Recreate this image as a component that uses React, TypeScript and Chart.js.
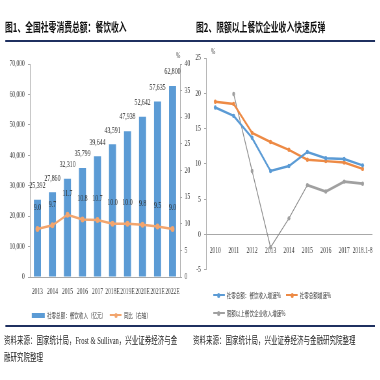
import React, { useEffect, useRef } from 'react';
import { Chart, registerables } from 'chart.js';

Chart.register(...registerables);

// ---------- data ----------
const leftCategories = ['2013', '2014', '2015', '2016', '2017', '2018E', '2019E', '2020E', '2021E', '2022E'];
const leftRevenue = [25392, 27860, 32310, 35799, 39644, 43591, 47938, 52642, 57635, 62800];
const leftGrowth = [9.0, 9.7, 11.7, 10.8, 10.7, 10.0, 10.0, 9.8, 9.5, 9.0];

const rightCategories = ['2010', '2011', '2012', '2013', '2014', '2015', '2016', '2017', '2018.1-8'];
const rightCateringGrowth = [18.0, 16.8, 13.7, 9.0, 9.7, 11.7, 10.8, 10.7, 9.8];
const rightRetailGrowth = [18.8, 18.5, 14.4, 13.1, 12.0, 10.6, 10.4, 10.2, 9.3];
const rightAboveQuotaGrowth = [null, 19.9, 9.0, -1.8, 2.3, 7.0, 6.1, 7.5, 7.2];

const leftTitle = '图1、全国社零消费总额：餐饮收入';
const rightTitle = '图2、限额以上餐饮企业收入快速反弹';
const leftSeriesNames = ['社零总额：餐饮收入（亿元）', '同比（右轴）'];
const rightSeriesNames = ['社零总额：餐饮收入增速%', '社零总额增速%', '限额以上餐饮企业收入增速%'];
const leftSource = ['资料来源：国家统计局，Frost & Sullivan，兴业证券经济与金', '融研究院整理'];
const rightSource = ['资料来源：国家统计局，兴业证券经济与金融研究院整理'];

// ---------- style ----------
const SQ = 0.65; // horizontal squeeze of the whole page
const SERIF = '"Liberation Serif", "Noto Sans CJK SC", serif';
const CJK = '"Noto Sans CJK SC", "Liberation Serif", sans-serif';
const BLUE = '#5b9bd5';
const ORANGE = '#ed8a45';
const ORANGE_L = '#f2a56e';
const GRAY = '#a0a0a0';
const AXIS = '#a8a8a8';
const TXT = '#3a3a3a';
const NAVY = '#1f3060';

const leftLabelsPlugin = {
  id: 'leftLabels',
  afterDatasetsDraw(chart: any) {
    const ctx = chart.ctx;
    const bars = chart.getDatasetMeta(0).data;
    const y1 = chart.scales.y1;
    ctx.save();
    ctx.font = `9px ${SERIF}`;
    ctx.fillStyle = '#2a2a2a';
    ctx.textAlign = 'center';
    ctx.textBaseline = 'middle';
    bars.forEach((bar: any, i: number) => {
      ctx.fillText(leftRevenue[i].toLocaleString('en-US'), bar.x, bar.y - 14);
      ctx.fillText(leftGrowth[i].toFixed(1), bar.x, y1.getPixelForValue(leftGrowth[i]) - 21);
    });
    ctx.restore();
  },
};

function LeftChart() {
  const ref = useRef<HTMLCanvasElement>(null);
  useEffect(() => {
    const chart = new Chart(ref.current as HTMLCanvasElement, {
      type: 'bar',
      data: {
        labels: leftCategories,
        datasets: [
          {
            type: 'bar',
            label: leftSeriesNames[0],
            data: leftRevenue,
            backgroundColor: BLUE,
            yAxisID: 'y',
            barPercentage: 0.47,
            categoryPercentage: 1,
            order: 1,
          } as any,
          {
            type: 'line',
            label: leftSeriesNames[1],
            data: leftGrowth,
            borderColor: ORANGE_L,
            backgroundColor: ORANGE_L,
            borderWidth: 2.5,
            pointRadius: 3,
            pointBorderWidth: 0,
            yAxisID: 'y1',
            order: 0,
          } as any,
        ],
      },
      options: {
        responsive: false,
        animation: false,
        layout: { padding: { top: 19, left: 0, right: 0, bottom: 0 } },
        plugins: { legend: { display: false }, tooltip: { enabled: false } },
        scales: {
          x: {
            grid: { drawOnChartArea: false, drawTicks: false },
            border: { display: true, color: AXIS },
            ticks: { font: { family: SERIF, size: 8.5 }, color: TXT, padding: 10, maxRotation: 0, minRotation: 0, autoSkip: false },
            afterFit: (s: any) => { s.height = 23; },
          },
          y: {
            position: 'left',
            min: 0,
            max: 70000,
            ticks: {
              stepSize: 10000,
              font: { family: SERIF, size: 8.5 },
              color: TXT,
              padding: 5,
              callback: (v: any) => Number(v).toLocaleString('en-US'),
            },
            grid: { drawOnChartArea: false, tickLength: 3, color: AXIS },
            border: { color: AXIS },
            afterFit: (s: any) => { s.width = 46; },
          },
          y1: {
            position: 'right',
            min: 0,
            max: 40,
            ticks: { stepSize: 5, font: { family: SERIF, size: 8.5 }, color: TXT, padding: 4 },
            grid: { drawOnChartArea: false, tickLength: 3, color: AXIS },
            border: { color: AXIS },
            afterFit: (s: any) => { s.width = 15; },
          },
        },
      } as any,
      plugins: [leftLabelsPlugin],
    });
    return () => chart.destroy();
  }, []);
  return <canvas ref={ref} width={292} height={255} style={{ position: 'absolute', left: 0, top: 45 }} />;
}

function RightChart() {
  const ref = useRef<HTMLCanvasElement>(null);
  useEffect(() => {
    const lineDs = (label: string, data: any[], color: string, extra: any = {}) => ({
      type: 'line',
      label,
      data,
      borderColor: color,
      backgroundColor: color,
      borderWidth: 2.5,
      pointRadius: 2.2,
      pointBorderWidth: 0,
      ...extra,
    });
    const chart = new Chart(ref.current as HTMLCanvasElement, {
      type: 'line',
      data: {
        labels: rightCategories,
        datasets: [
          lineDs(rightSeriesNames[0], rightCateringGrowth, BLUE),
          lineDs(rightSeriesNames[1], rightRetailGrowth, ORANGE),
          lineDs(rightSeriesNames[2], rightAboveQuotaGrowth, GRAY, {
            segment: {
              borderWidth: (c: any) => (c.p1DataIndex <= 5 ? 1.2 : 2.8),
              borderColor: (c: any) => (c.p1DataIndex <= 5 ? '#8a8a8a' : GRAY),
            },
          }),
        ] as any,
      },
      options: {
        responsive: false,
        animation: false,
        layout: { padding: { top: 13, left: 0, right: 13, bottom: 5 } },
        plugins: { legend: { display: false }, tooltip: { enabled: false } },
        scales: {
          x: {
            position: { y: 0 },
            offset: true,
            grid: { drawOnChartArea: false, drawTicks: false },
            border: { display: true, color: AXIS },
            ticks: { font: { family: SERIF, size: 8.5 }, color: TXT, padding: 11, maxRotation: 0, minRotation: 0, autoSkip: false },
          },
          y: {
            min: -5,
            max: 25,
            ticks: { stepSize: 5, font: { family: SERIF, size: 8.5 }, color: TXT, padding: 5 },
            grid: { drawOnChartArea: false, tickLength: 3, color: AXIS },
            border: { color: AXIS },
            afterFit: (s: any) => { s.width = 25; },
          },
        },
      } as any,
    });
    return () => chart.destroy();
  }, []);
  return <canvas ref={ref} width={293} height={235} style={{ position: 'absolute', left: 292, top: 45 }} />;
}

const abs = (left: number, top: number, extra: any = {}) => ({ position: 'absolute' as const, left, top, ...extra });

function LegendLine({ left, top, color, label }: { left: number; top: number; color: string; label: string }) {
  return (
    <>
      <div style={abs(left, top - 1, { width: 18, height: 2, background: color })} />
      <div style={abs(left + 6.5, top - 2.5, { width: 5, height: 5, borderRadius: '50%', background: color })} />
      <div style={abs(left + 21, top - 6, { font: `7px ${CJK}`, lineHeight: '12px', color: TXT, whiteSpace: 'nowrap' })}>{label}</div>
    </>
  );
}

export default function App() {
  const V = (x: number) => x / SQ;
  return (
    <div style={{ position: 'fixed', left: 0, top: 0, width: 380, height: 380, overflow: 'hidden', background: '#fff' }}>
      <div style={{ position: 'absolute', left: 0, top: 0, width: 585, height: 380, transform: `scaleX(${SQ})`, transformOrigin: '0 0' }}>
        <div style={abs(V(5), 19, { font: `bold 12px ${CJK}`, lineHeight: '16px', color: '#111', whiteSpace: 'nowrap' })}>{leftTitle}</div>
        <div style={abs(V(196), 19, { font: `bold 12px ${CJK}`, lineHeight: '16px', color: '#111', whiteSpace: 'nowrap' })}>{rightTitle}</div>
        <div style={abs(V(5), 40, { width: V(370), height: 2, background: NAVY })} />

        <LeftChart />
        <div style={abs(V(176), 51, { font: `8px ${SERIF}`, color: TXT })}>%</div>
        <RightChart />
        <div style={abs(V(211), 47, { font: `8px ${SERIF}`, color: TXT })}>%</div>

        {/* left legend */}
        <div style={abs(V(32), 313, { width: V(13), height: 5, background: BLUE })} />
        <div style={abs(V(47), 309, { font: `7px ${CJK}`, lineHeight: '12px', color: TXT, whiteSpace: 'nowrap' })}>{leftSeriesNames[0]}</div>
        <LegendLine left={V(110)} top={315} color={ORANGE_L} label={leftSeriesNames[1]} />

        {/* right legend */}
        <LegendLine left={V(213)} top={295} color={BLUE} label={rightSeriesNames[0]} />
        <LegendLine left={V(286)} top={295} color={ORANGE} label={rightSeriesNames[1]} />
        <LegendLine left={V(213)} top={313} color={GRAY} label={rightSeriesNames[2]} />

        <div style={abs(V(5), 325, { width: V(370), height: 2, background: NAVY })} />

        <div style={abs(V(4), 332, { font: `10px ${SERIF}`, lineHeight: '17px', color: '#222', whiteSpace: 'nowrap' })}>
          {leftSource[0]}<br />{leftSource[1]}
        </div>
        <div style={abs(V(193), 332, { font: `10px ${SERIF}`, lineHeight: '17px', color: '#222', whiteSpace: 'nowrap' })}>
          {rightSource[0]}
        </div>
      </div>
    </div>
  );
}
